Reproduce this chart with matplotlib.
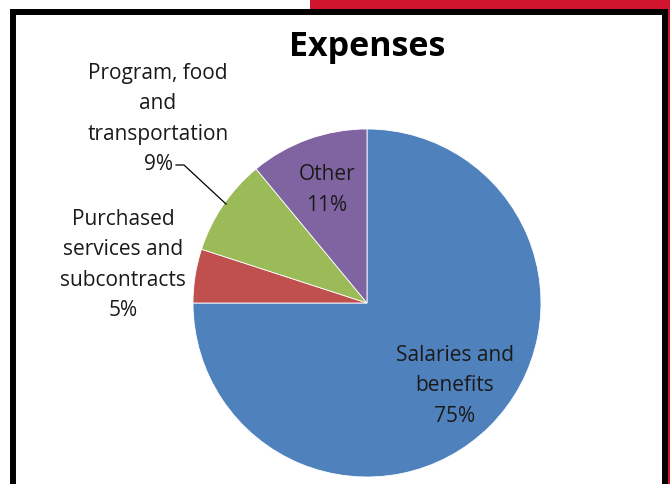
import numpy as np
import matplotlib.pyplot as plt
from matplotlib.patches import Rectangle

# data, clockwise from 12 o'clock as in the source chart
categories = ["Salaries and\nbenefits", "Purchased\nservices and\nsubcontracts",
              "Program, food\nand\ntransportation", "Other"]
shares = [75, 5, 9, 11]
colors = ["#4F81BD", "#C0504D", "#9BBB59", "#8064A2"]

W, H = 670, 485
fig = plt.figure(figsize=(W / 100, H / 100), dpi=100)
ax = fig.add_axes([0, 0, 1, 1])

plt.rcParams['font.family'] = ['Open Sans', 'DejaVu Sans']


def py(y):
    # image row -> data y
    return H - y


cx, cy, r = 367, 304, 174
ax.pie(shares, colors=colors, startangle=90, counterclock=False,
       center=(cx, py(cy)), radius=r, frame=True,
       wedgeprops=dict(linewidth=0.6, edgecolor='white'))
ax.set_xlim(0, W)
ax.set_ylim(0, H)
ax.set_aspect('equal')
ax.axis('off')

# frame + red decoration
ax.add_patch(Rectangle((310, py(10)), W - 310, 10, color='#D2152F', lw=0, zorder=5))
ax.add_patch(Rectangle((667, 0), 3, H, color='#D2152F', lw=0, zorder=5))
ax.plot([13, 13, 664.5, 664.5], [0, py(12.5), py(12.5), 0], color='black',
        lw=4.3, solid_joinstyle='miter', zorder=6)

ax.text(367, py(47), "Expenses", ha='center', va='center', fontsize=24.5,
        fontweight='bold', color='black')

lab_kw = dict(ha='center', va='center', fontsize=15, color='#1a1a1a',
              linespacing=1.6)
pos = [(455, 386), (123, 265), (158, 119), (327, 190)]
for cat, s, (x, y) in zip(categories, shares, pos):
    ax.text(x, py(y), f"{cat}\n{s}%", **lab_kw)

# leader line for the green slice
ax.plot([176, 184, 226], [py(166), py(166), py(205)], color='black', lw=0.9)

fig.savefig("out.png", dpi=100)
